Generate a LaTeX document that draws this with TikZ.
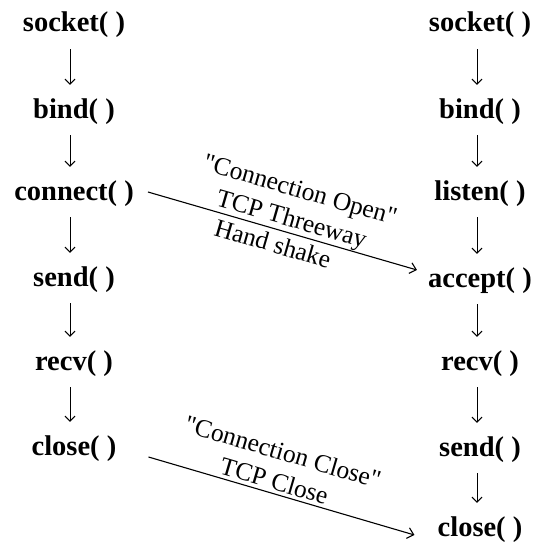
\documentclass[tikz,border=0pt]{standalone}
\usepackage{fontspec}
\setmainfont{Liberation Serif}
\usetikzlibrary{arrows.meta}
\begin{document}
\begin{tikzpicture}[x=1pt,y=-1pt,
  call/.style={font=\fontsize{28.5}{30}\selectfont\bfseries, inner sep=0pt,
    anchor=base, text height=19pt, text depth=6pt},
  flow/.style={line width=1pt, shorten <=11pt, shorten >=14pt,
    -{Straight Barb[length=5pt,width=10pt]}},
  msg/.style={line width=1.1pt, -{Straight Barb[length=6pt,width=11pt]}},
  note/.style={font=\fontsize{25.5}{30.5}\selectfont, inner sep=0pt, sloped, align=center}]
\useasboundingbox (0,0) rectangle (533,551);

% client side
\node[call] (cso)  at (74,32)  {socket( )};
\node[call] (cbi)  at (74,118) {bind( )};
\node[call] (cco)  at (74,200) {connect( )};
\node[call] (cse)  at (74,286) {send( )};
\node[call] (cre)  at (74,370) {recv( )};
\node[call] (ccl)  at (74,455) {close( )};

% server side
\node[call] (sso)  at (480,32)  {socket( )};
\node[call] (sbi)  at (480,118) {bind( )};
\node[call] (sli)  at (480,200) {listen( )};
\node[call] (sac)  at (480,287) {accept( )};
\node[call] (sre)  at (480,370) {recv( )};
\node[call] (sse)  at (480,456) {send( )};
\node[call] (scl)  at (480,536) {close( )};

% call order, client
\foreach \a/\b in {cso/cbi, cbi/cco, cco/cse, cse/cre, cre/ccl}
  \draw[flow] ([xshift=-4pt]\a.south) -- ([xshift=-4pt]\b.north);

% call order, server
\foreach \a/\b in {sso/sbi, sbi/sli, sli/sac, sac/sre, sre/sse, sse/scl}
  \draw[flow] ([xshift=-3pt]\a.south) -- ([xshift=-3pt]\b.north);

% connection set-up
\draw[msg] ([xshift=14pt,yshift=8pt]cco.base east) -- ([xshift=-11pt,yshift=17pt]sac.base west)
  node[note, pos=0.52, above=0pt] (open) {\textquotedbl Connection Open\textquotedbl\\TCP Threeway}
  node[note, pos=0.48, below=5pt] (hand) {Hand shake};

% connection tear-down
\draw[msg] ([xshift=32pt,yshift=-2pt]ccl.base east) -- ([xshift=-23pt,yshift=1pt]scl.base west)
  node[note, pos=0.46, above=3pt] (shut) {\textquotedbl Connection Close\textquotedbl\\TCP Close};
\end{tikzpicture}
\end{document}
